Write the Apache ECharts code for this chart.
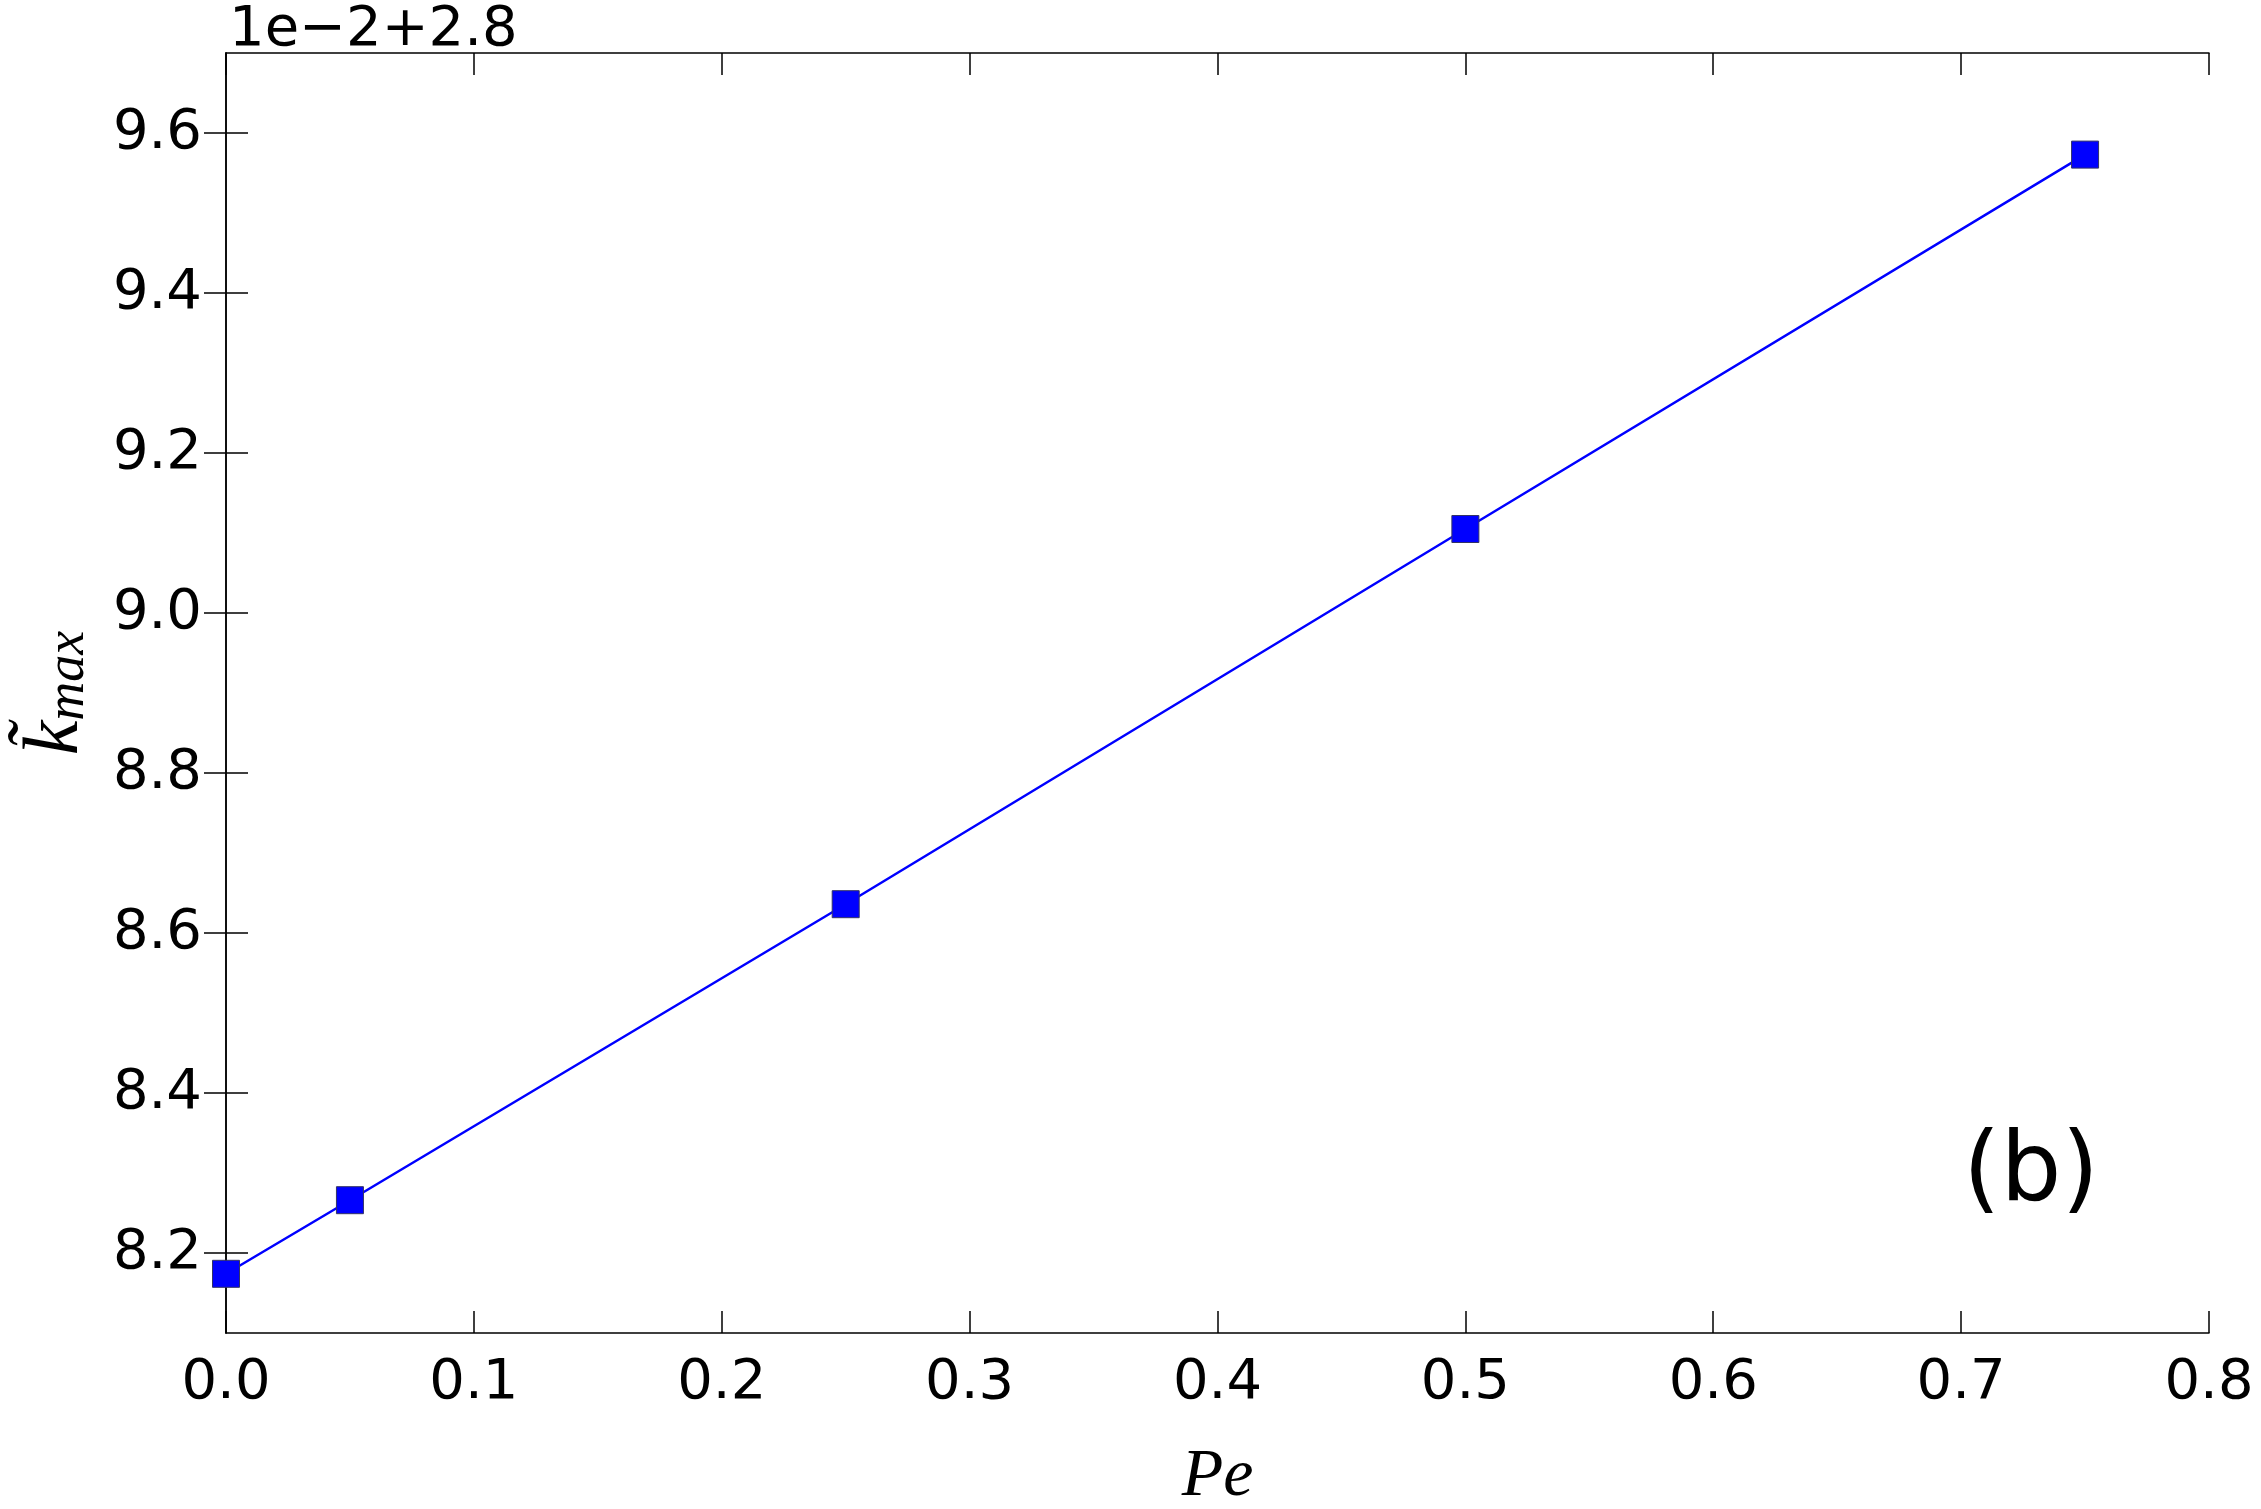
<!DOCTYPE html>
<html><head><meta charset="utf-8">
<script src="https://cdn.jsdelivr.net/npm/echarts@6/dist/echarts.min.js"></script>
<style>html,body{margin:0;padding:0;background:#fff}#c{width:2261px;height:1509px}</style>
</head><body><div id="c"></div>
<script>
const peValues = [0.0, 0.05, 0.25, 0.5, 0.75];
const kmaxValues = [8.174, 8.266, 8.636, 9.105, 9.573];
const xTicks = [0.0, 0.1, 0.2, 0.3, 0.4, 0.5, 0.6, 0.7, 0.8];
const yTicks = [8.2, 8.4, 8.6, 8.8, 9.0, 9.2, 9.4, 9.6];
const offsetText = '1e\u22122+2.8';
const panelLabel = '(b)';

const chart = echarts.init(document.getElementById('c'));
const lab = {fontFamily:'DejaVu Sans', fontSize:56, color:'#000'};
const axLine = {show:true, lineStyle:{color:'#000', width:1.5}};
const tick = (vals)=>({show:true, inside:true, length:22, lineStyle:{color:'#000', width:1.5}, customValues: vals});
chart.setOption({
  animation:false,
  grid:{left:226, right:52, top:53, bottom:176, containLabel:false, outerBoundsMode:'none'},
  xAxis:[
    {type:'value', min:0, max:0.8, interval:0.1, position:'bottom',
     axisLine:axLine, axisTick:tick(xTicks), splitLine:{show:false},
     axisLabel:Object.assign({margin:22, customValues:xTicks, formatter:v=>v.toFixed(1)}, lab),
     name:'Pe', nameLocation:'middle', nameGap:110,
     nameTextStyle:{fontFamily:'Liberation Serif', fontStyle:'italic', fontSize:68, color:'#000'}},
    {type:'value', min:0, max:0.8, interval:0.1, position:'top',
     axisLine:axLine, axisTick:tick(xTicks), splitLine:{show:false}, axisLabel:{show:false}}
  ],
  yAxis:[
    {type:'value', min:8.1, max:9.7, position:'left',
     axisLine:axLine, axisTick:tick(yTicks), splitLine:{show:false},
     axisLabel:Object.assign({margin:24, customValues:yTicks, formatter:v=>v.toFixed(1)}, lab),
     name:'{k|k\u0303}{s|max}', nameLocation:'middle', nameGap:130, nameRotate:90,
     nameTextStyle:{rich:{
       k:{fontFamily:'Liberation Serif', fontStyle:'italic', fontSize:78, color:'#000'},
       s:{fontFamily:'Liberation Serif', fontStyle:'italic', fontSize:54, color:'#000', padding:[26,0,0,0]}
     }}},
    {type:'value', min:8.1, max:9.7, position:'right',
     axisLine:axLine, axisTick:tick(yTicks), splitLine:{show:false}, axisLabel:{show:false}}
  ],
  series:[{
    type:'line', xAxisIndex:0, yAxisIndex:0,
    data: peValues.map((x,i)=>[x, kmaxValues[i]]),
    symbol:'rect', symbolSize:27, showAllSymbol:true, clip:true,
    lineStyle:{color:'#0000ff', width:2.5},
    itemStyle:{color:'#0000ff', borderColor:'#333366', borderWidth:1}
  }],
  graphic:[
    {type:'text', left:229, top:2, style:{text:offsetText, font:'56px "DejaVu Sans"', fill:'#000'}},
    {type:'text', left:1963, top:1127, style:{text:panelLabel, font:'96px "DejaVu Sans"', fill:'#000'}}
  ]
});
</script></body></html>
